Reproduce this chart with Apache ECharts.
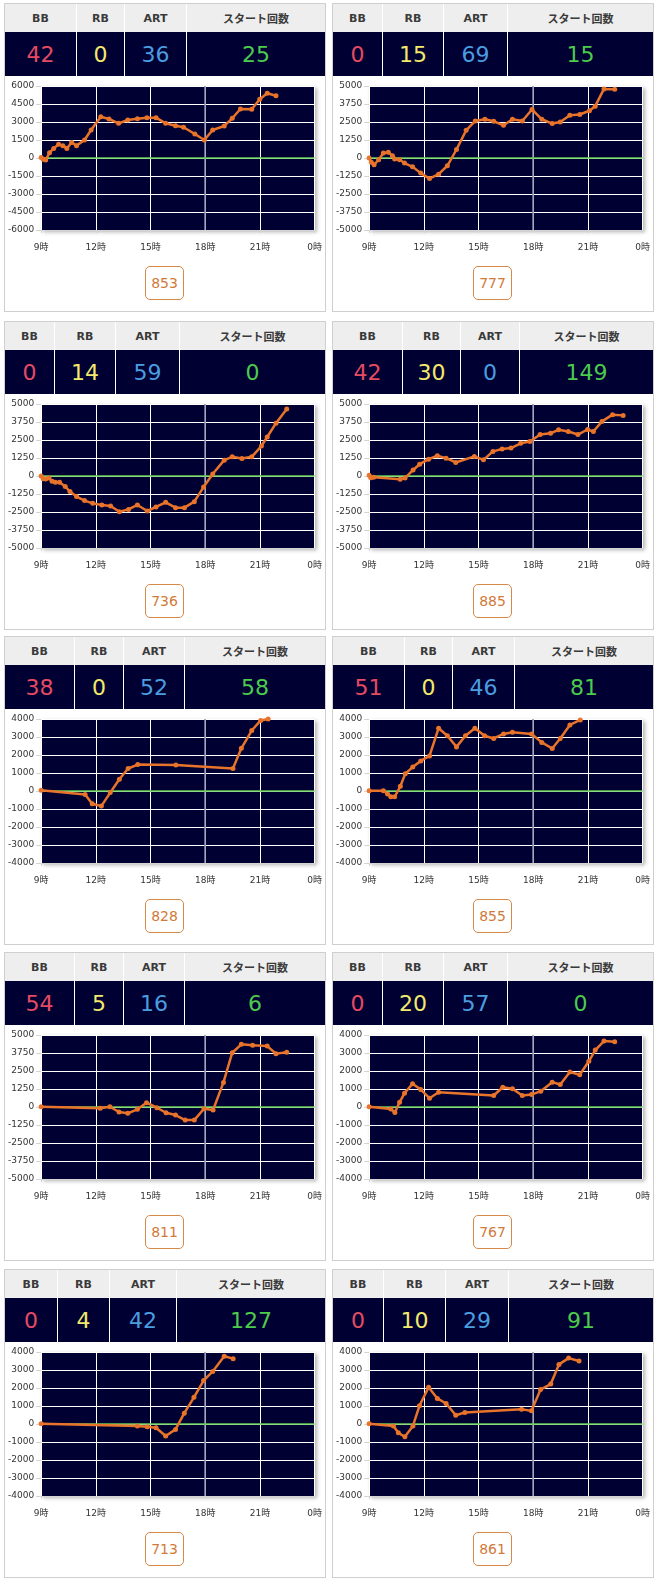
<!DOCTYPE html>
<html><head><meta charset="utf-8">
<script src="https://cdn.jsdelivr.net/npm/echarts@6/dist/echarts.min.js"></script>
<style>
body{margin:0;background:#fff;width:658px;height:1580px;position:relative;overflow:hidden;font-family:'DejaVu Sans','Noto Sans CJK JP',sans-serif}
.panel{position:absolute;width:320px;height:307px;border:1px solid #cfcfcf;background:#fff}
.cell{position:absolute;box-sizing:border-box;display:flex;align-items:center;justify-content:center}
.hc{top:0;height:28px;background:#eeeeee;color:#3a3a3a;font-weight:bold;font-size:11px}
.nc{top:28px;height:44px;background:#000033;font-size:22px}
.sep{border-left:1px solid #fff}
.chart{position:absolute;left:0;top:72px;width:320px;height:186px}
.btn{position:absolute;left:140px;top:262px;width:39px;height:34px;box-sizing:border-box;border:1px solid #d58a4a;border-radius:5px;color:#d07a3a;font-size:14px;display:flex;align-items:center;justify-content:center;background:#fff}
</style></head><body>
<script>
// ---- data ----
const headerLabels = ['BB','RB','ART','スタート回数'];
const bbCounts    = [42, 0, 0, 42, 38, 51, 54, 0, 0, 0];
const rbCounts    = [0, 15, 14, 30, 0, 0, 5, 20, 4, 10];
const artCounts   = [36, 69, 59, 0, 52, 46, 16, 57, 42, 29];
const startCounts = [25, 15, 0, 149, 58, 81, 6, 0, 127, 91];
const gameTotals  = [853, 777, 736, 885, 828, 855, 811, 767, 713, 861];
const yAxisMax    = [6000, 5000, 5000, 5000, 4000, 4000, 5000, 4000, 4000, 4000];
const yAxisStep   = [1500, 1250, 1250, 1250, 1000, 1000, 1250, 1000, 1000, 1000];
const xTickLabels = ['9時','12時','15時','18時','21時','0時'];

const p1Hours = [9.0,9.11,9.25,9.46,9.69,9.96,10.19,10.41,10.67,10.94,11.38,11.74,12.27,12.72,13.25,13.75,14.28,14.80,15.30,15.83,16.37,16.81,17.43,17.95,18.41,19.04,19.48,19.93,20.55,20.99,21.40,21.88];
const p1Diff  = [50,-110,-170,440,800,1140,1030,800,1300,1030,1500,2330,3440,3250,2890,3170,3280,3360,3360,2890,2690,2560,2000,1500,2330,2670,3310,4080,4060,4890,5390,5190];
const p2Hours = [9.0,9.12,9.27,9.52,9.78,10.05,10.28,10.40,10.67,10.94,11.38,11.83,12.31,12.81,13.29,13.79,14.32,14.82,15.35,15.83,16.37,16.86,17.40,17.93,18.47,19.04,19.48,20.01,20.55,21.08,21.40,21.88,22.47];
const p2Diff  = [0,-300,-470,-120,350,400,160,-70,-120,-350,-610,-1050,-1430,-1120,-540,590,1920,2570,2690,2550,2270,2690,2570,3370,2690,2390,2500,2970,3020,3280,3600,4800,4770];
const p3Hours = [9.0,9.11,9.25,9.43,9.60,9.78,10.01,10.32,10.58,10.94,11.38,11.83,12.33,12.81,13.29,13.79,14.28,14.82,15.30,15.83,16.37,16.86,17.40,17.91,18.41,19.04,19.48,20.01,20.55,21.08,21.40,21.88,22.47];
const p3Diff  = [0,-190,-210,-140,-370,-440,-440,-730,-1080,-1430,-1710,-1900,-2010,-2080,-2480,-2320,-2010,-2430,-2150,-1830,-2200,-2200,-1780,-770,140,1100,1330,1220,1330,2080,2710,3670,4660];
const p4Hours = [9.0,9.09,9.25,10.70,10.97,11.41,11.77,12.26,12.74,13.22,13.75,14.77,15.27,15.79,16.29,16.78,17.31,17.82,18.38,18.95,19.39,19.92,20.45,20.98,21.30,21.77,22.35,22.93];
const p4Diff  = [50,-120,-90,-230,-140,420,820,1170,1410,1240,940,1360,1120,1710,1870,1940,2270,2390,2880,2970,3210,3090,2880,3230,3090,3790,4260,4210];
const p5Hours = [9.0,11.41,11.80,12.30,12.79,13.29,13.77,14.30,16.39,19.52,19.98,20.55,21.04,21.45];
const p5Diff  = [40,-190,-710,-840,-90,650,1250,1470,1440,1250,2370,3360,3920,4000];
const p6Hours = [9.0,9.78,10.01,10.19,10.40,10.71,10.98,11.39,11.83,12.31,12.81,13.29,13.79,14.28,14.80,15.33,15.83,16.37,16.86,17.91,18.47,19.04,19.48,20.01,20.58];
const p6Diff  = [20,20,-170,-320,-320,260,960,1330,1670,1950,3490,3070,2450,3070,3490,3070,2920,3170,3260,3170,2700,2360,2920,3670,3950];
const p7Hours = [9.0,12.24,12.77,13.27,13.75,14.28,14.78,15.35,15.85,16.37,16.90,17.40,17.93,18.43,19.00,19.48,19.98,20.60,21.40,21.88,22.47];
const p7Diff  = [20,-90,20,-350,-440,-160,300,-50,-400,-560,-910,-910,-120,-210,1710,3770,4350,4280,4230,3700,3810];
const p8Hours = [9.0,10.19,10.41,10.67,10.94,11.38,11.83,12.31,12.81,15.83,16.33,16.86,17.40,17.91,18.41,19.04,19.48,20.01,20.55,21.05,21.40,21.88,22.47];
const p8Diff  = [20,-110,-300,260,770,1290,970,490,820,640,1100,1010,640,690,880,1380,1250,1940,1790,2540,3160,3660,3630];
const p9Hours = [9.0,14.28,14.82,15.30,15.83,16.37,16.85,17.38,17.91,18.41,19.04,19.53];
const p9Diff  = [20,-110,-150,-210,-670,-300,600,1480,2410,2920,3760,3630];
const p10Hours = [9.0,10.33,10.60,10.96,11.40,11.76,12.26,12.74,13.22,13.75,14.25,17.36,17.90,18.40,18.96,19.41,19.94,20.51];
const p10Diff  = [20,-110,-490,-710,-110,1010,2040,1420,1140,490,640,820,730,1910,2220,3310,3660,3500];

const allHours = [p1Hours,p2Hours,p3Hours,p4Hours,p5Hours,p6Hours,p7Hours,p8Hours,p9Hours,p10Hours];
const allDiff  = [p1Diff,p2Diff,p3Diff,p4Diff,p5Diff,p6Diff,p7Diff,p8Diff,p9Diff,p10Diff];

// ---- layout ----
const panelLefts = [4, 332];
const panelTops = [3, 321, 636, 952, 1269];
const colDividers = [[71,119,181],[49,110,174],[49,110,174],[69,127,186],[69,118,179],[71,119,181],[69,118,179],[49,110,174],[52,104,171],[50,112,175]];
const numColors = ['#e54b62','#f2ea6c','#4a9ee0','#4ccb4c'];

for (let i = 0; i < 10; i++) {
  const panel = document.createElement('div');
  panel.className = 'panel';
  panel.style.left = panelLefts[i % 2] + 'px';
  panel.style.top = panelTops[Math.floor(i / 2)] + 'px';
  const edges = [0].concat(colDividers[i]).concat([320]);
  const vals = [bbCounts[i], rbCounts[i], artCounts[i], startCounts[i]];
  for (let c = 0; c < 4; c++) {
    const h = document.createElement('div');
    h.className = 'cell hc' + (c ? ' sep' : '');
    h.style.left = edges[c] + 'px';
    h.style.width = (edges[c + 1] - edges[c]) + 'px';
    h.textContent = headerLabels[c];
    panel.appendChild(h);
    const n = document.createElement('div');
    n.className = 'cell nc' + (c ? ' sep' : '');
    n.style.left = edges[c] + 'px';
    n.style.width = (edges[c + 1] - edges[c]) + 'px';
    n.style.color = numColors[c];
    n.textContent = vals[c];
    panel.appendChild(n);
  }
  const chartDiv = document.createElement('div');
  chartDiv.className = 'chart';
  panel.appendChild(chartDiv);
  const btn = document.createElement('div');
  btn.className = 'btn';
  btn.textContent = gameTotals[i];
  panel.appendChild(btn);
  document.body.appendChild(panel);

  const m = yAxisMax[i], s = yAxisStep[i];
  const chart = echarts.init(chartDiv, null, {renderer: 'canvas'});
  chart.setOption({
    animation: false,
    textStyle: {fontFamily: "'DejaVu Sans','Noto Sans CJK JP',sans-serif"},
    grid: {left: 32, right: 7, top: 10, height: 144, show: true, backgroundColor: '#000033', borderWidth: 0,
           shadowColor: 'rgba(0,0,0,0.3)', shadowBlur: 4, shadowOffsetX: 2, shadowOffsetY: 2},
    xAxis: {type: 'value', min: 9, max: 24, interval: 3,
      axisLine: {show: true, onZero: false, lineStyle: {color: '#d4d4d4'}},
      axisTick: {show: true, length: 3, lineStyle: {color: '#d4d4d4'}},
      axisLabel: {margin: 13, fontSize: 9, color: '#333', formatter: v => xTickLabels[Math.round((v - 9) / 3)]},
      splitLine: {show: true, lineStyle: {color: '#ffffff', width: 1}}},
    yAxis: {type: 'value', min: -m, max: m, interval: s,
      axisLine: {show: false},
      axisTick: {show: true, length: 5, lineStyle: {color: '#d4d4d4'}},
      axisLabel: {margin: 7, fontSize: 9, color: '#333', formatter: v => String(v)},
      splitLine: {show: true, lineStyle: {color: '#ffffff', width: 1}}},
    series: [{
      type: 'line', z: 3,
      data: allHours[i].map((h, k) => [h, allDiff[i][k]]),
      symbol: 'circle', symbolSize: 5,
      itemStyle: {color: '#e8732a'},
      lineStyle: {color: '#e8732a', width: 2.5},
      markLine: {silent: true, z: 1, symbol: 'none', label: {show: false}, animation: false,
        data: [
          {xAxis: 18, lineStyle: {color: '#8a8aaa', width: 1.5, type: 'solid'}},
          {yAxis: 0, lineStyle: {color: '#66cc55', width: 1.5, type: 'solid'}}
        ]}
    }]
  });
}
</script>
</body></html>
